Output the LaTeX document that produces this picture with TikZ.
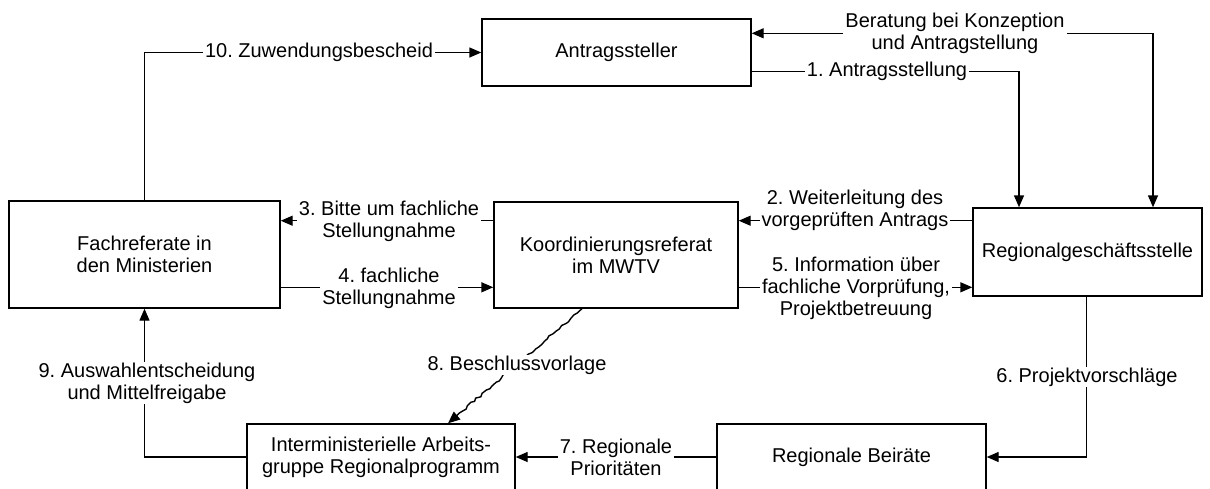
\documentclass[tikz,border=0pt]{standalone}
\usepackage{fontspec}
\setmainfont{Liberation Sans}
\usetikzlibrary{arrows.meta,decorations.pathmorphing}
\frenchspacing
\begin{document}
\begin{tikzpicture}[x=1pt,y=-1pt,
  every node/.style={font=\fontsize{20}{22}\selectfont},
  box/.style={draw,line width=1.4pt,inner sep=0pt,align=center},
  conn/.style={line width=1.4pt,-{Triangle[length=12pt,width=10pt]}},
  conntwo/.style={line width=1.4pt,{Triangle[length=12pt,width=10pt]}-{Triangle[length=12pt,width=10pt]}},
  lab/.style={fill=white,inner xsep=2pt,inner ysep=1pt,align=center}]
\pgfmathsetseed{7}
\clip (0,0) rectangle (1210,488);
\fill[white] (0,0) rectangle (1210,488);
% boxes
\node[box,minimum width=269pt,minimum height=67pt] (ant) at (616.5,52.5) {Antragssteller};
\node[box,minimum width=271pt,minimum height=107pt] (fach) at (144.5,254.5) {Fachreferate in\\den Ministerien};
\node[box,minimum width=244pt,minimum height=106pt] (koord) at (616,255) {Koordinierungsreferat\\im MWTV};
\node[box,minimum width=229pt,minimum height=88pt] (reg) at (1087.5,252) {Regionalgeschäftsstelle};
\node[box,minimum width=269pt,minimum height=66pt] (beir) at (851.5,457) {Regionale Beiräte};
\node[box,minimum width=268pt,minimum height=66pt] (inter) at (381,457) {Interministerielle Arbeits-\\gruppe Regionalprogramm};
% connectors
\coordinate (b1) at (1153,33.3);
\draw[conntwo] (b1 |- reg.north) -- (b1) -- (b1 -| ant.east);
\coordinate (a1) at (1019,71.7);
\draw[conn] (a1 -| ant.east) -- (a1) -- (a1 |- reg.north);
\draw[conn] (fach.north) |- (ant.west);
\coordinate (y2) at (0,220.7);
\draw[conn] (reg.west |- y2) -- (koord.east |- y2);
\draw[conn] (koord.west |- y2) -- (fach.east |- y2);
\coordinate (y4) at (0,287.3);
\draw[conn] (fach.east |- y4) -- (koord.west |- y4);
\draw[conn] (koord.east |- y4) -- (reg.west |- y4);
\coordinate (c6) at (1086.7,0);
\draw[conn] (reg.south -| c6) |- (beir.east);
\draw[conn] (beir.west) -- (inter.east);
\draw[conn] (inter.west) -| (fach.south);
\coordinate (w1) at (582,0);
\coordinate (w2) at (448,0);
\draw[conn,decorate,decoration={random steps,segment length=4pt,amplitude=1.2pt,pre length=2pt,post length=9pt}] (koord.south -| w1) -- (inter.north -| w2);
% labels
\node[lab] (l10) at (319,52.3) {10. Zuwendungsbescheid};
\node[lab] (lb) at (955,33.3) {Beratung bei Konzeption\\und Antragstellung};
\node[lab] (l1) at (887,71.7) {1. Antragsstellung};
\node[lab] (l2) at (855,210) {2. Weiterleitung des\\vorgeprüften Antrags};
\node[lab] (l3) at (389,221) {3. Bitte um fachliche\\Stellungnahme};
\node[lab] (l4) at (389,288) {4. fachliche\\Stellungnahme};
\node[lab] (l5) at (856,288) {5. Information über\\fachliche Vorprüfung,\\Projektbetreuung};
\node[lab] (l6) at (1087,377) {6. Projektvorschläge};
\node[lab] (l7) at (616,457) {7. Regionale\\Prioritäten};
\node[lab] (l8) at (517,365) {8. Beschlussvorlage};
\node[lab] (l9) at (147,383) {9. Auswahlentscheidung\\und Mittelfreigabe};
\end{tikzpicture}
\end{document}
